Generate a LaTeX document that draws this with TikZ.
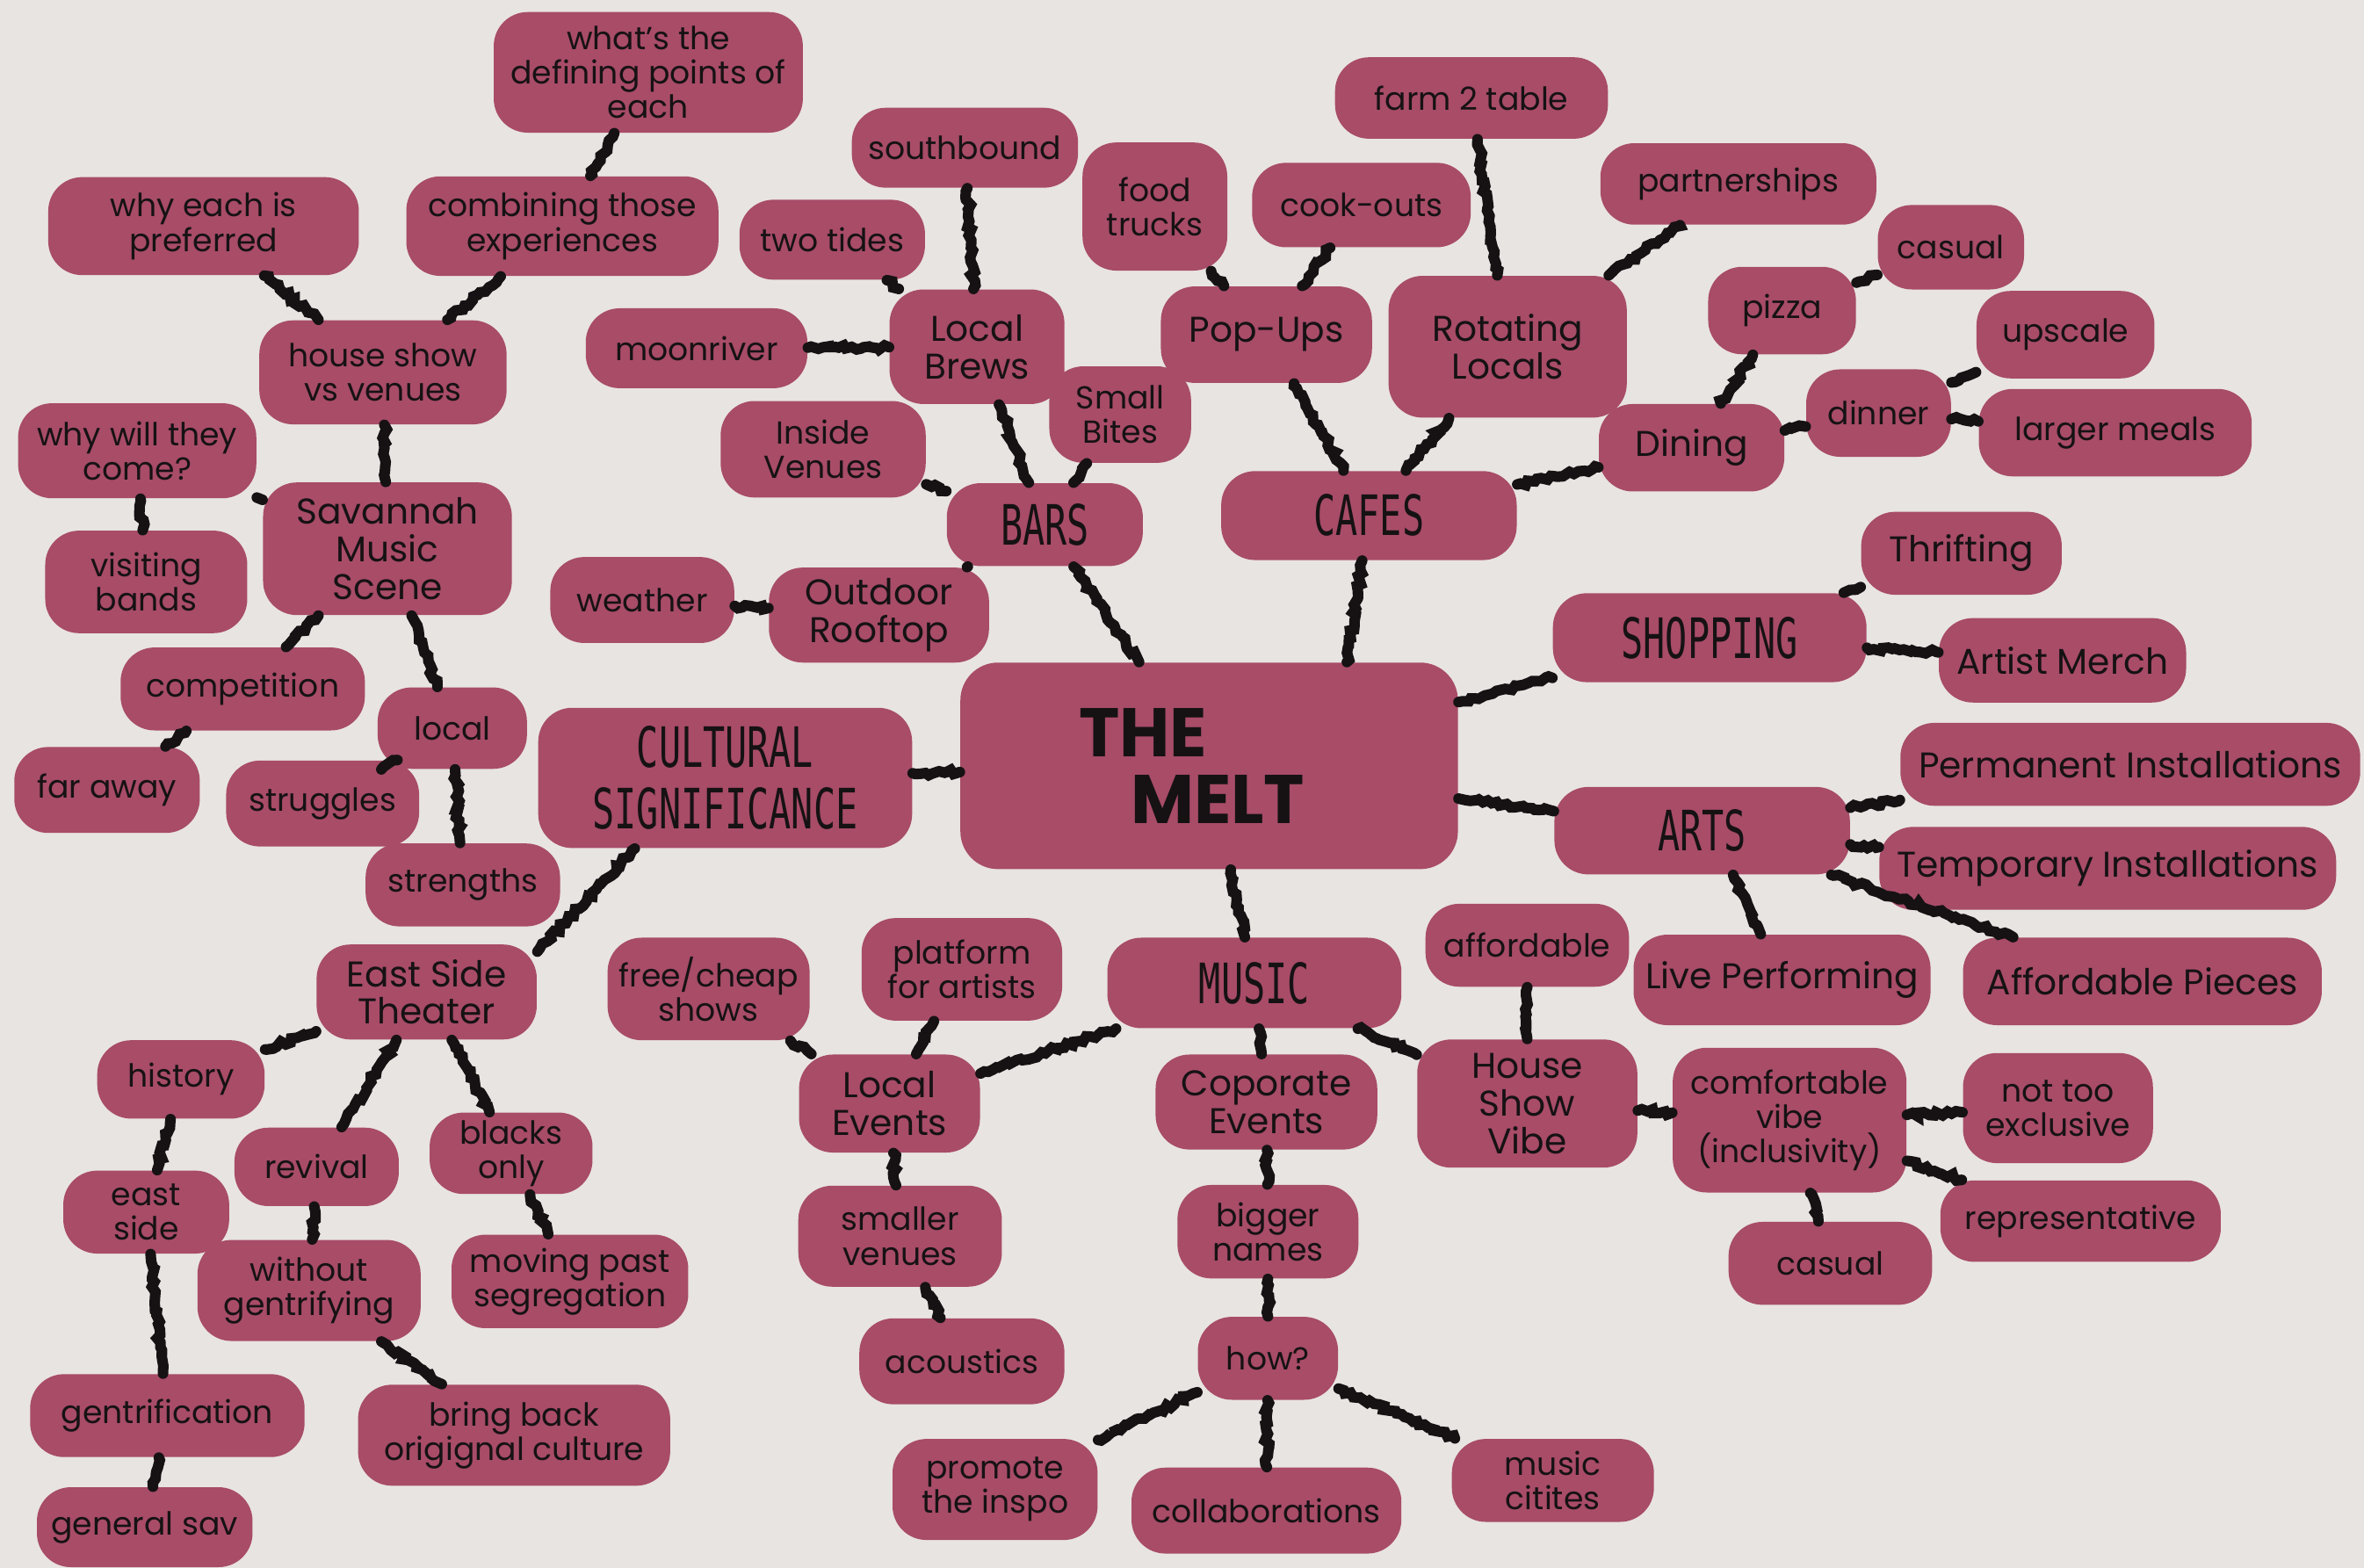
\documentclass[tikz,border=0pt]{standalone}
\usepackage{fontspec}
\usepackage{graphicx}
\setmainfont{Poppins}
\newfontfamily\catfont{DejaVu Sans Mono}
\usetikzlibrary{decorations.pathmorphing}

\definecolor{paper}{RGB}{232,228,225}
\definecolor{berry}{RGB}{168,76,104}
\definecolor{ink}{RGB}{22,18,20}
\newcommand{\cat}[1]{\scalebox{.66}[1]{#1}}

\tikzset{
  bub/.style={fill=berry, text=ink, rounded corners=.45cm, align=center, inner sep=1pt,
    font=\fontsize{12}{13}\selectfont},
  bubbig/.style={bub, font=\fontsize{13.5}{14.2}\selectfont},
  catbox/.style={bub, font=\catfont\fontsize{21}{23}\selectfont},
  sz/.style 2 args={minimum width=#1*0.02cm, minimum height=#2*0.02cm},
  brush/.style={draw=ink, line width=4pt, line cap=round, decorate,
    decoration={random steps, segment length=1.6pt, amplitude=.9pt}}
}

\begin{document}
\begin{tikzpicture}[x=0.02cm, y=-0.02cm]
\pgfmathsetseed{7}
\fill[paper] (0,0) rectangle (1568,1040);
\useasboundingbox (0,0) rectangle (1568,1040);

% hub
\node[bub, sz={330}{137}, rounded corners=.5cm, align=left,
  font=\bfseries\fontsize{26}{25}\selectfont] (melt) at (802,508) {THE\\\hspace*{.75em}MELT\hspace*{.5em}};

% categories
\node[catbox, sz={130}{55}] (bars) at (693,348) {\cat{BARS}};
\node[catbox, sz={196}{59}] (cafes) at (908,342) {\cat{CAFES}};
\node[catbox, sz={208}{59}] (shopping) at (1134,423) {\cat{SHOPPING}};
\node[catbox, sz={196}{58}] (arts) at (1129,551) {\cat{ARTS}};
\node[catbox, sz={195}{60}] (music) at (832,652) {\cat{MUSIC}};
\node[catbox, sz={248}{93}] (cultural) at (481,516) {\cat{CULTURAL}\\\cat{SIGNIFICANCE}};

% savannah music scene
\node[bub, sz={205}{80}] (whatsthe) at (430,48) {what's the\\defining points of\\each};
\node[bub, sz={207}{66}] (combining) at (373,150) {combining those\\experiences};
\node[bub, sz={206}{65}] (whyeach) at (135,150) {why each is\\preferred};
\node[bub, sz={164}{69}] (housevs) at (254,247) {house show\\vs venues};
\node[bub, sz={158}{63}] (whywill) at (91,299) {why will they\\come?};
\node[bubbig, sz={165}{88}] (savannah) at (257,364) {Savannah\\Music\\Scene};
\node[bub, sz={134}{68}] (visiting) at (97,386) {visiting\\bands};
\node[bub, sz={162}{55}] (competition) at (161,457) {competition};
\node[bub, sz={123}{57}] (faraway) at (71,524) {far away};
\node[bub, sz={99}{54}] (local) at (300,483) {local};
\node[bub, sz={128}{57}] (struggles) at (214,533) {struggles};
\node[bub, sz={129}{55}] (strengths) at (307,587) {strengths};

% bars
\node[bub, sz={122}{57}] (weather) at (426,398) {weather};
\node[bubbig, sz={146}{63}] (outdoor) at (583,408) {Outdoor\\Rooftop};
\node[bub, sz={150}{53}] (southbound) at (640,98) {southbound};
\node[bub, sz={123}{53}] (twotides) at (552,159) {two tides};
\node[bub, sz={147}{53}] (moonriver) at (462,231) {moonriver};
\node[bubbig, sz={116}{76}] (brews) at (648,230) {Local\\Brews};
\node[bub, sz={136}{64}] (inside) at (546,298) {Inside\\Venues};
\node[bub, sz={94}{64}] (bites) at (743,275) {Small\\Bites};

% cafes
\node[bub, sz={96}{85}] (trucks) at (766,137) {food\\trucks};
\node[bub, sz={145}{56}] (cookouts) at (903,136) {cook-outs};
\node[bubbig, sz={140}{64}] (popups) at (840,222) {Pop-Ups};
\node[bub, sz={181}{54}] (farm) at (976,65) {farm 2 table};
\node[bubbig, sz={158}{94}] (rotating) at (1000,230) {Rotating\\Locals};
\node[bub, sz={183}{54}] (partner) at (1153,122) {partnerships};
\node[bub, sz={97}{56}] (casualtop) at (1294,164) {casual};
\node[bub, sz={98}{58}] (pizza) at (1182,206) {pizza};
\node[bub, sz={118}{58}] (upscale) at (1370,222) {upscale};
\node[bub, sz={96}{58}] (dinner) at (1246,274) {dinner};
\node[bub, sz={181}{58}] (larger) at (1403,287) {larger meals};
\node[bubbig, sz={123}{58}] (dining) at (1122,297) {Dining};

% shopping and arts
\node[bubbig, sz={133}{55}] (thrift) at (1301,367) {Thrifting};
\node[bubbig, sz={164}{56}] (merch) at (1368,438) {Artist Merch};
\node[bubbig, sz={305}{55}] (perm) at (1413,507) {Permanent Installations};
\node[bubbig, sz={303}{55}] (temp) at (1398,576) {Temporary Installations};
\node[bubbig, sz={197}{60}] (live) at (1182,650) {Live Performing};
\node[bubbig, sz={238}{58}] (pieces) at (1421,651) {Affordable Pieces};

% music
\node[bub, sz={135}{55}] (affordable) at (1013,627) {affordable};
\node[bubbig, sz={146}{85}] (houseshow) at (1013,732) {House\\Show\\Vibe};
\node[bub, sz={155}{96}] (comfy) at (1187,743) {comfortable\\vibe\\(inclusivity)};
\node[bub, sz={126}{73}] (nottoo) at (1365,735) {not too\\exclusive};
\node[bub, sz={186}{54}] (repr) at (1380,810) {representative};
\node[bub, sz={135}{55}] (casualbot) at (1214,838) {casual};
\node[bub, sz={133}{68}] (platform) at (638,643) {platform\\for artists};
\node[bub, sz={134}{68}] (freecheap) at (470,656) {free/cheap\\shows};
\node[bubbig, sz={120}{65}] (levents) at (590,732) {Local\\Events};
\node[bubbig, sz={147}{63}] (corp) at (840,731) {Coporate\\Events};
\node[bub, sz={135}{67}] (smaller) at (597,820) {smaller\\venues};
\node[bub, sz={136}{57}] (acoustics) at (638,903) {acoustics};
\node[bub, sz={120}{62}] (bigger) at (841,817) {bigger\\names};
\node[bub, sz={93}{55}] (how) at (841,901) {how?};
\node[bub, sz={136}{67}] (promote) at (660,988) {promote\\the inspo};
\node[bub, sz={179}{57}] (collab) at (840,1002) {collaborations};
\node[bub, sz={134}{55}] (cities) at (1030,982) {music\\citites};

% cultural significance
\node[bubbig, sz={146}{63}] (eastside) at (283,658) {East Side\\Theater};
\node[bub, sz={111}{52}] (history) at (120,716) {history};
\node[bub, sz={109}{52}] (revival) at (210,774) {revival};
\node[bub, sz={108}{54}] (blacks) at (339,765) {blacks\\only};
\node[bub, sz={110}{55}] (eside) at (97,804) {east\\side};
\node[bub, sz={148}{67}] (without) at (205,856) {without\\gentrifying};
\node[bub, sz={157}{62}] (moving) at (378,850) {moving past\\segregation};
\node[bub, sz={182}{55}] (gentri) at (111,939) {gentrification};
\node[bub, sz={207}{67}] (bringback) at (341,952) {bring back\\origignal culture};
\node[bub, sz={143}{53}] (gensav) at (96,1013) {general sav};

% connectors
\foreach \a/\b in {whatsthe/combining, combining/housevs, whyeach/housevs, housevs/savannah,
  savannah/whywill, whywill/visiting, savannah/competition, competition/faraway,
  savannah/local, local/struggles, local/strengths,
  melt/cultural, cultural.218/eastside.20, eastside/history, eastside/revival, eastside/blacks,
  history/eside, revival/without, blacks/moving, eside/gentri, without/bringback, gentri/gensav,
  melt.124/bars, bars/brews, bars/inside, bars/bites, bars/outdoor, outdoor/weather,
  brews/southbound, brews/twotides, brews/moonriver,
  melt.37/cafes, cafes/popups, cafes/rotating, cafes/dining, popups/trucks, popups/cookouts,
  rotating/farm, rotating/partner, dining/pizza, dining/dinner, pizza/casualtop,
  dinner/upscale, dinner/larger,
  melt/shopping, shopping/thrift, shopping/merch,
  melt/arts, arts/perm, arts/temp, arts.-55/live, arts/pieces,
  melt/music, music/levents, music/corp, music/houseshow,
  levents/platform, levents/freecheap, levents/smaller, smaller/acoustics,
  corp/bigger, bigger/how, how/promote, how/collab, how/cities,
  houseshow/affordable, houseshow/comfy, comfy/nottoo, comfy/repr, comfy/casualbot}
  \draw[brush] (\a) -- (\b);
\end{tikzpicture}
\end{document}
